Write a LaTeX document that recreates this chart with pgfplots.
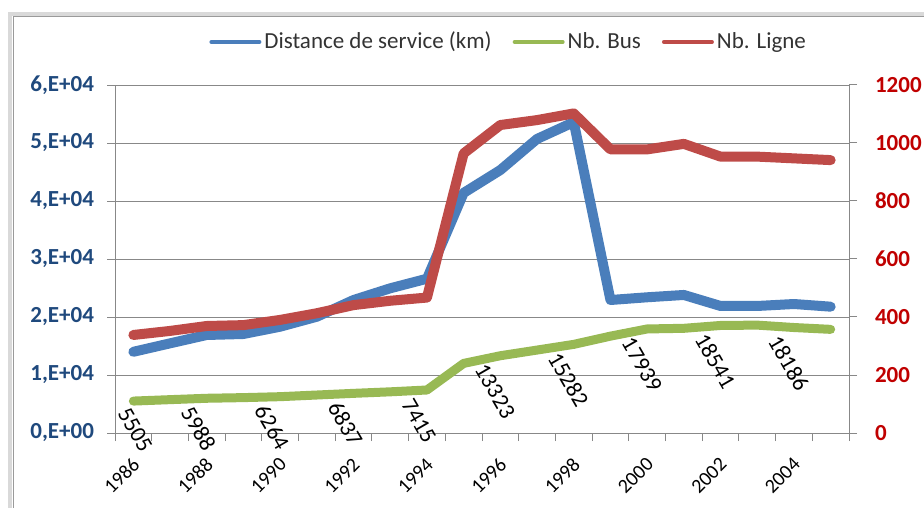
\documentclass[border=0pt]{standalone}
\usepackage{pgfplots}
\pgfplotsset{compat=1.18}
\usepackage{fontspec}
\setmainfont{Carlito}

\definecolor{cblue}{HTML}{4A7EBB}
\definecolor{cgreen}{HTML}{98B954}
\definecolor{cred}{HTML}{BE4B48}
\definecolor{gridcol}{HTML}{888888}
\definecolor{lblue}{HTML}{1F497D}
\definecolor{lred}{HTML}{C00000}
\definecolor{framelight}{HTML}{D9D9D9}
\definecolor{framedark}{HTML}{9A9A9A}

\newcommand{\chartfont}{\fontsize{11.5}{13}\selectfont}

\begin{document}
\begin{tikzpicture}
\useasboundingbox (0,0) rectangle (462pt,254pt);
% outer frame of the chart area
\draw[framelight, line width=1.75pt] (462pt,247pt) -- (5pt,247pt) -- (5pt,0pt);
\draw[framedark, line width=0.5pt] (462pt,245.5pt) -- (6.5pt,245.5pt) -- (6.5pt,0pt);

\begin{axis}[
  at={(57.5pt,37.5pt)}, anchor=south west, scale only axis,
  width=367pt, height=174pt,
  xmin=-0.5, xmax=19.5, ymin=0, ymax=60000,
  clip=false,
  axis x line*=bottom, axis y line*=left,
  axis line style={gridcol, line width=0.5pt},
  tick align=outside, major tick length=4pt,
  tick style={gridcol, line width=0.5pt},
  xtick={-0.5,0.5,...,19.5}, xticklabels={},
  extra x ticks={0,2,...,18},
  extra x tick labels={1986,1988,1990,1992,1994,1996,1998,2000,2002,2004},
  extra x tick style={tick style={draw=none}},
  xticklabel style={font=\fontsize{10}{11}\selectfont, inner sep=0pt, xshift=1.5pt, yshift=-10pt, rotate=45, anchor=east},
  ytick={0,10000,...,60000},
  yticklabels={{0,E+00},{1,E+04},{2,E+04},{3,E+04},{4,E+04},{5,E+04},{6,E+04}},
  scaled y ticks=false,
  yticklabel style={font=\chartfont\bfseries, text=lblue, xshift=-3pt},
  ymajorgrids, grid style={gridcol, line width=0.5pt},
  legend style={at={(0.537,1.1236)}, anchor=center, draw=none, fill=none,
    font=\chartfont, text=black!80, legend columns=3,
    nodes={inner xsep=1.5pt},
    /tikz/every even column/.append style={column sep=9pt}},
  legend image code/.code={\draw[#1, line width=2pt, line cap=round] (0pt,0pt) -- (24pt,0pt);},
]
\addplot[cblue, line width=5pt, line join=round, line cap=round] coordinates {
(0,14000) (1,15460) (2,16900) (3,17070) (4,18330) (5,20050) (6,22930) (7,24950)
(8,26600) (9,41400) (10,45340) (11,50700) (12,53600) (13,22930) (14,23400)
(15,23800) (16,21900) (17,21900) (18,22240) (19,21780)};
\addlegendentry{Distance de service (km)}
\addplot[cgreen, line width=4.5pt, line join=round, line cap=round] coordinates {
(0,5505) (1,5750) (2,5988) (3,6100) (4,6264) (5,6550) (6,6837) (7,7100)
(8,7415) (9,12000) (10,13323) (11,14300) (12,15282) (13,16700) (14,17939)
(15,18050) (16,18541) (17,18600) (18,18186) (19,17870)};
\addlegendentry{Nb. Bus}
\addlegendimage{cred, line width=5pt}
\addlegendentry{Nb. Ligne}
% data labels of the bus series
\addplot[draw=none, forget plot, nodes near coords, point meta=explicit symbolic,
  every node near coord/.append style={font=\chartfont, text=black, inner sep=0pt,
    xshift=-5pt, yshift=-4pt, rotate=-60, anchor=west}] coordinates {
(0,5505)[5505]};
\addplot[draw=none, forget plot, nodes near coords, point meta=explicit symbolic,
  every node near coord/.append style={font=\chartfont, text=black, inner sep=0pt,
    xshift=-10pt, yshift=-5pt, rotate=-60, anchor=west}] coordinates {
(2,5988)[5988] (4,6264)[6264] (6,6837)[6837] (8,7415)[7415]
(10,13323)[13323] (12,15282)[15282] (14,17939)[17939] (16,18541)[18541] (18,18186)[18186]};
\end{axis}

\begin{axis}[
  at={(57.5pt,37.5pt)}, anchor=south west, scale only axis,
  width=367pt, height=174pt,
  xmin=-0.5, xmax=19.5, ymin=0, ymax=1200,
  axis x line=none, axis y line*=right,
  axis line style={gridcol, line width=0.5pt},
  tick align=outside, major tick length=4pt,
  tick style={gridcol, line width=0.5pt},
  ytick={0,200,...,1200},
  yticklabel style={font=\chartfont\bfseries, text=lred, xshift=5.5pt,
    /pgf/number format/assume math mode=true, /pgf/number format/1000 sep={}},
]
\addplot[cred, line width=5pt, line join=round, line cap=round] coordinates {
(0,338) (1,352) (2,369) (3,372) (4,390) (5,413) (6,441) (7,456)
(8,467) (9,964) (10,1062) (11,1079) (12,1102) (13,978) (14,978)
(15,997) (16,953) (17,953) (18,947) (19,941)};
\end{axis}
\end{tikzpicture}
\end{document}
